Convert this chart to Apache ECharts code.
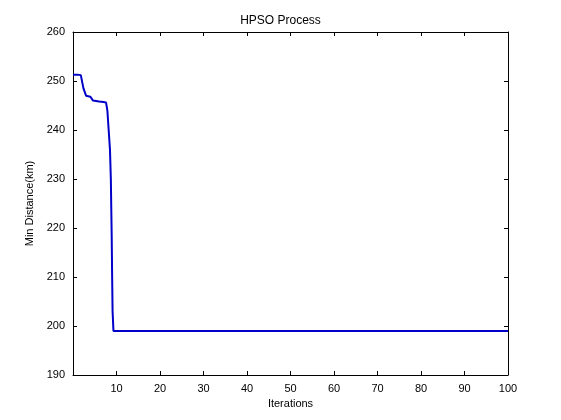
<!DOCTYPE html>
<html><head><meta charset="utf-8">
<script src="https://cdn.jsdelivr.net/npm/echarts@6/dist/echarts.min.js"></script>
<style>html,body{margin:0;background:#fff}#c{width:561px;height:420px}</style>
</head><body><div id="c"></div>
<script>
const iters = [0, 1, 1.8, 2.4, 3, 4, 4.6, 5, 6, 7, 7.6, 7.9, 8.2, 8.5, 8.7, 8.8, 8.9, 9, 9.1, 9.3, 10, 20, 40, 60, 80, 100]
const dist = [251.3, 251.3, 251.2, 248.5, 247, 246.8, 246, 245.8, 245.8, 245.7, 245.6, 244, 240, 236, 230, 224, 218, 210, 203, 199, 199, 199, 199, 199, 199, 199]
const chart = echarts.init(document.getElementById('c'))
const txt = { color: '#000', fontFamily: 'Liberation Sans', fontSize: 11 }
const axisCommon = {
  axisLine: { show: true, onZero: false, lineStyle: { color: '#000' } },
  axisTick: { inside: true, length: 4, lineStyle: { color: '#000' } },
  splitLine: { show: false },
  axisLabel: txt,
  nameTextStyle: txt
}
chart.setOption({
  animation: false,
  title: { text: 'HPSO Process', left: 'center', top: 10, textStyle: { ...txt, fontWeight: 'normal', fontSize: 12 } },
  grid: { left: 73, right: 53, top: 32, bottom: 45 },
  xAxis: [
    { type: 'value', min: 0, max: 100, interval: 10, name: 'Iterations', nameLocation: 'middle', nameGap: 15, ...axisCommon,
      axisLabel: { ...txt, formatter: v => v === 0 ? '' : v } },
    { type: 'value', position: 'top', min: 0, max: 100, interval: 10, ...axisCommon, axisLabel: { show: false } }
  ],
  yAxis: [
    { type: 'value', min: 190, max: 260, interval: 10, name: 'Min Distance(km)', nameLocation: 'middle', nameGap: 30, ...axisCommon },
    { type: 'value', position: 'right', min: 190, max: 260, interval: 10, ...axisCommon, axisLabel: { show: false } }
  ],
  series: [{
    type: 'line', showSymbol: false,
    data: iters.map((x, i) => [x, dist[i]]),
    lineStyle: { color: '#0000c8', width: 2 }
  }]
})
</script></body></html>
